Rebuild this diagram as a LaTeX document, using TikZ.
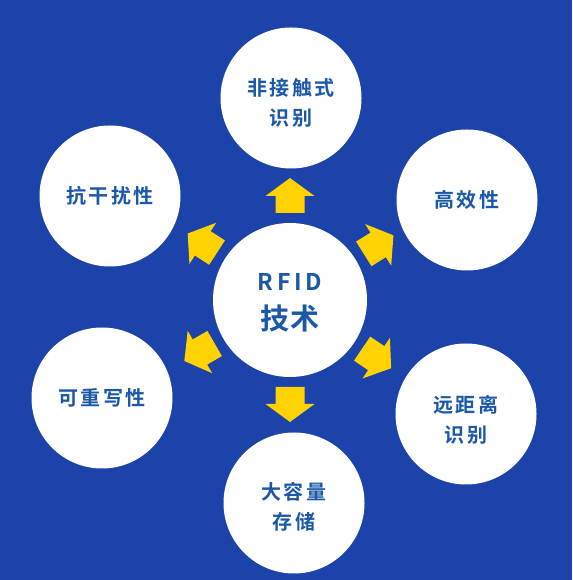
\documentclass[tikz,border=0pt]{standalone}
\usepackage{fontspec}
\newfontfamily\cjkb{Noto Sans CJK SC Bold}[LetterSpace=12]
\newfontfamily\cjkhub{Noto Sans CJK SC Bold}[LetterSpace=4]
\newfontfamily\latinhub{Noto Sans CJK SC Bold}[LetterSpace=16]
\definecolor{bgblue}{RGB}{27,67,170}
\definecolor{txtblue}{RGB}{28,88,168}
\definecolor{arrowyellow}{RGB}{255,210,0}
\tikzset{
  bubble/.style={circle, fill=white, minimum size=141pt, inner sep=0pt},
  hub/.style={bubble, minimum size=154pt},
  bubtext/.style={align=center, inner sep=0pt, text=txtblue, font=\cjkb\fontsize{20}{30}\selectfont},
  blockarrow/.style={fill=arrowyellow, draw=none}
}
\begin{document}
\begin{tikzpicture}[x=1pt,y=1pt]
\useasboundingbox (0,0) rectangle (572,580);
\fill[bgblue] (0,0) rectangle (572,580);
\node[hub] (hub) at (290,280) {};
\node[bubble] (top) at (291,482) {};
\node[bubble] (tl) at (110,384) {};
\node[bubble] (tr) at (467,380) {};
\node[bubble] (bl) at (102,182) {};
\node[bubble] (br) at (466,166) {};
\node[bubble] (bot) at (294,77) {};
\node[bubtext] (hubtext) at ([yshift=-3pt]hub.center) {{\latinhub\fontsize{23}{35}\selectfont RFID}\\[9pt]{\cjkhub\fontsize{29}{35}\selectfont 技术}};
\node[bubtext] (toptext) at ([yshift=-5pt]top.center) {非接触式\\识别};
\node[bubtext] (tltext) at (tl.center) {抗干扰性};
\node[bubtext] (trtext) at (tr.center) {高效性};
\node[bubtext] (bltext) at (bl.center) {可重写性};
\node[bubtext] (brtext) at ([yshift=-6pt]br.center) {远距离\\识别};
\node[bubtext] (bottext) at ([yshift=-4pt]bot.center) {大容量\\存储};
\foreach \a in {90,32,-34,-90,210,147}{
  \begin{scope}[shift={(hub.center)}, rotate=\a]
    \fill[blockarrow] (87,14.5) -- (104,14.5) -- (104,24.5) -- (122,0) -- (104,-24.5) -- (104,-14.5) -- (87,-14.5) -- cycle;
  \end{scope}
}
\end{tikzpicture}
\end{document}
